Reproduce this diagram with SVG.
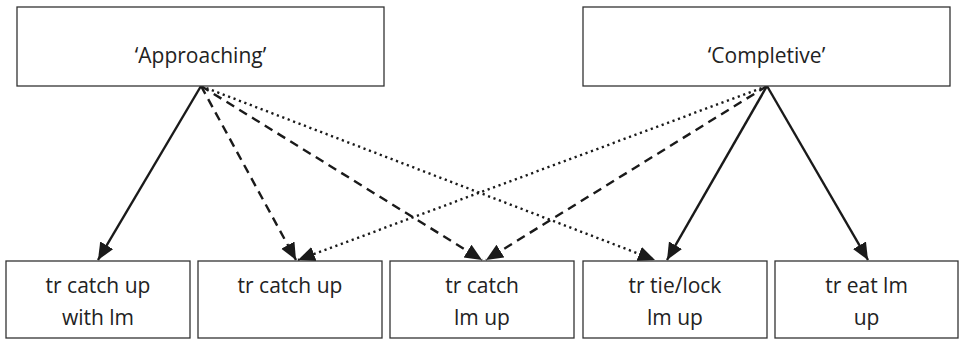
<svg xmlns="http://www.w3.org/2000/svg" width="959" height="340" viewBox="0 0 959 340">
<style>
.box{fill:#fff;stroke:#333;stroke-width:1.3}
.t{font-family:"Open Sans","Noto Sans",sans-serif;font-size:21px;fill:#222;text-anchor:middle}
.c{stroke:#1a1a1a;stroke-width:2.4;fill:none}
.dash{stroke-dasharray:9 6}
.dot{stroke-dasharray:2.2 3.6}
</style>
<defs>
<marker id="ah" markerUnits="userSpaceOnUse" markerWidth="18" markerHeight="16" refX="17" refY="7.5" orient="auto">
<path d="M0,0 L17,7.5 L0,15 z" fill="#1a1a1a"/>
</marker>
</defs>
<rect width="959" height="340" fill="#fff"/>
<g id="connectors">
<line class="c" x1="201" y1="86" x2="98" y2="260" marker-end="url(#ah)"/>
<line class="c dash" x1="201" y1="86" x2="296" y2="260" marker-end="url(#ah)"/>
<line class="c dash" x1="201" y1="86" x2="482" y2="260" marker-end="url(#ah)"/>
<line class="c dot" x1="201" y1="86" x2="655" y2="260" marker-end="url(#ah)"/>
<line class="c dot" x1="767" y1="86" x2="298" y2="260" marker-end="url(#ah)"/>
<line class="c dash" x1="767" y1="86" x2="486" y2="260" marker-end="url(#ah)"/>
<line class="c" x1="767" y1="86" x2="667" y2="260" marker-end="url(#ah)"/>
<line class="c" x1="767" y1="86" x2="868" y2="260" marker-end="url(#ah)"/>
</g>
<g id="approaching">
<rect class="box" x="17" y="7" width="367" height="79"/>
<text class="t" x="200.5" y="63">‘Approaching’</text>
</g>
<g id="completive">
<rect class="box" x="583" y="7" width="367" height="79"/>
<text class="t" x="766.5" y="63">‘Completive’</text>
</g>
<g id="n1">
<rect class="box" x="6" y="261" width="184" height="77"/>
<text class="t" x="98" y="293">tr catch up</text>
<text class="t" x="98" y="325">with lm</text>
</g>
<g id="n2">
<rect class="box" x="198" y="261" width="184" height="77"/>
<text class="t" x="290" y="293">tr catch up</text>
</g>
<g id="n3">
<rect class="box" x="390" y="261" width="184" height="77"/>
<text class="t" x="482" y="293">tr catch</text>
<text class="t" x="482" y="325">lm up</text>
</g>
<g id="n4">
<rect class="box" x="583" y="261" width="184" height="77"/>
<text class="t" x="675" y="293">tr tie/lock</text>
<text class="t" x="675" y="325">lm up</text>
</g>
<g id="n5">
<rect class="box" x="775" y="261" width="183" height="77"/>
<text class="t" x="866.5" y="293">tr eat lm</text>
<text class="t" x="866.5" y="325">up</text>
</g>
</svg>
